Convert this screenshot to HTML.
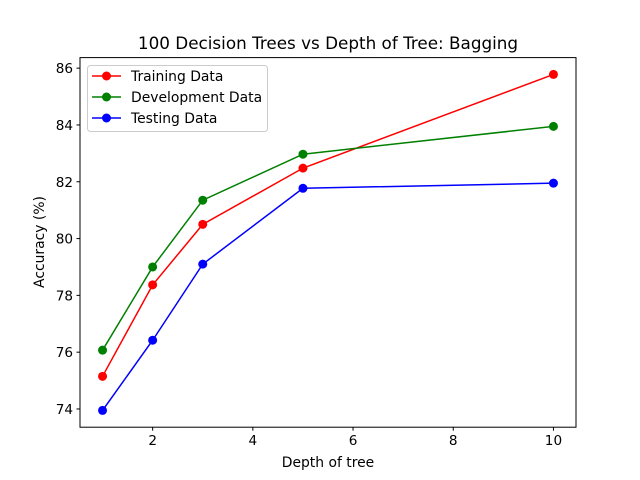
<!DOCTYPE html>
<html><head><meta charset="utf-8"><style>body{margin:0;background:#fff}svg{display:block;font-family:"DejaVu Sans","Liberation Sans",sans-serif}</style></head>
<body>
<svg id="chart" width="640" height="480" viewBox="0 0 640 480">
<rect width="640" height="480" fill="#fff"/>
<text x="328" y="49" font-size="16.8" text-anchor="middle">100 Decision Trees vs Depth of Tree: Bagging</text>
<g id="plot"></g>
<rect x="80" y="57.6" width="496" height="369.6" fill="none" stroke="#000" stroke-width="1"/>
<text x="328" y="467" font-size="13.9" text-anchor="middle">Depth of tree</text>
<text transform="translate(44,242) rotate(-90)" font-size="13.9" text-anchor="middle">Accuracy (%)</text>
<g>
<rect x="87.5" y="65.5" width="180" height="66" rx="3" fill="#fff" fill-opacity="0.8" stroke="#ccc"/>
<line x1="92" y1="76" x2="121" y2="76" stroke="red" stroke-width="1.5"/><circle cx="106.5" cy="76" r="4.5" fill="red"/>
<text x="131" y="81" font-size="13.9">Training Data</text>
<line x1="92" y1="97" x2="121" y2="97" stroke="green" stroke-width="1.5"/><circle cx="106.5" cy="97" r="4.5" fill="green"/>
<text x="131" y="102" font-size="13.9">Development Data</text>
<line x1="92" y1="118" x2="121" y2="118" stroke="blue" stroke-width="1.5"/><circle cx="106.5" cy="118" r="4.5" fill="blue"/>
<text x="131" y="123" font-size="13.9">Testing Data</text>
</g>
</svg>
<script>
const depths = [1, 2, 3, 5, 10];
const training = [75.15, 78.37, 80.5, 82.48, 85.78];
const development = [76.07, 79.0, 81.35, 82.97, 83.95];
const testing = [73.95, 76.42, 79.1, 81.77, 81.95];
const xTicks = [2, 4, 6, 8, 10];
const yTicks = [74, 76, 78, 80, 82, 84, 86];

const L=80,R=576,T=57.6,B=427.2,NS='http://www.w3.org/2000/svg';
const xmin0=Math.min(...depths),xmax0=Math.max(...depths),xp=(xmax0-xmin0)*0.05;
const all=training.concat(development,testing);
const ymin0=Math.min(...all),ymax0=Math.max(...all),yp=(ymax0-ymin0)*0.05;
const x=v=>L+(v-(xmin0-xp))/((xmax0-xmin0)+2*xp)*(R-L);
const y=v=>B-(v-(ymin0-yp))/((ymax0-ymin0)+2*yp)*(B-T);
const g=document.getElementById('plot');
function mk(t,a){const e=document.createElementNS(NS,t);for(const k in a)e.setAttribute(k,a[k]);g.appendChild(e);return e;}
xTicks.forEach(t=>{
  const l=mk('line',{x1:x(t),x2:x(t),y1:B,y2:B+3.5,stroke:'#000'});
  
  
  const s=mk('text',{x:x(t),y:B+18,'font-size':13.6,'text-anchor':'middle'});s.textContent=t;
  
  
});
yTicks.forEach(t=>{
  const l=mk('line',{x1:L-3.5,x2:L,y1:y(t),y2:y(t),stroke:'#000'});
  
  
  const s=mk('text',{x:L-7,y:y(t)+5,'font-size':13.6,'text-anchor':'end'});s.textContent=t;
  
  
});
[[training,'red','training'],[development,'green','development'],[testing,'blue','testing']].forEach(([d,c,n])=>{
  const p=mk('polyline',{points:d.map((v,i)=>x(depths[i])+','+y(v)).join(' '),fill:'none',stroke:c,'stroke-width':1.5});
  
  
  d.forEach((v,i)=>{const m=mk('circle',{cx:x(depths[i]),cy:y(v),r:4.5,fill:c});
    
    });
});
</script>
</body></html>
